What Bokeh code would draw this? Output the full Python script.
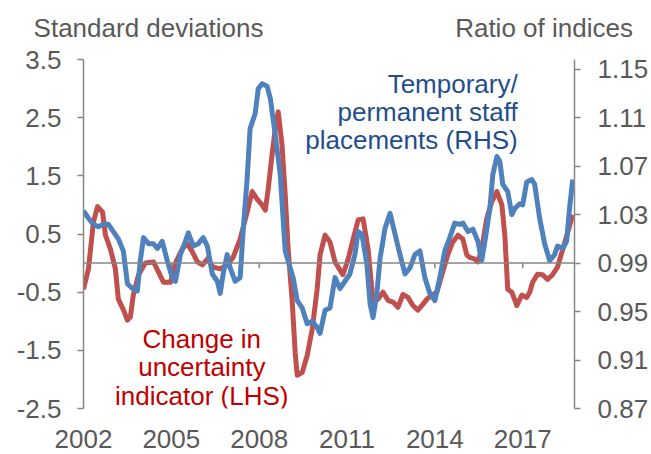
from bokeh.plotting import figure
from bokeh.models import Range1d, LinearAxis, FixedTicker, Span
from bokeh.core.properties import value
from bokeh.embed import file_html
from bokeh.resources import INLINE

# ---- data (decimal years) ----
unc_years = [2002.00, 2002.17, 2002.34, 2002.48, 2002.65, 2002.75, 2002.92, 2003.09, 2003.19, 2003.36,
             2003.50, 2003.60, 2003.70, 2003.88, 2004.11, 2004.39, 2004.56, 2004.73, 2004.97, 2005.14,
             2005.38, 2005.55, 2005.72, 2005.89, 2006.06, 2006.23, 2006.43, 2006.67, 2006.91, 2007.11,
             2007.35, 2007.59, 2007.76, 2007.93, 2008.10, 2008.21, 2008.31, 2008.44, 2008.55, 2008.65,
             2008.78, 2008.89, 2008.99, 2009.13, 2009.23, 2009.30, 2009.47, 2009.64, 2009.81, 2009.98,
             2010.08, 2010.25, 2010.42, 2010.59, 2010.86, 2011.04, 2011.21, 2011.38, 2011.55, 2011.72,
             2011.89, 2012.06, 2012.23, 2012.40, 2012.57, 2012.74, 2012.91, 2013.08, 2013.25, 2013.42,
             2013.59, 2013.73, 2013.90, 2014.07, 2014.27, 2014.44, 2014.61, 2014.79, 2014.96, 2015.09,
             2015.19, 2015.36, 2015.47, 2015.60, 2015.77, 2015.94, 2016.12, 2016.29, 2016.39, 2016.49,
             2016.63, 2016.80, 2016.97, 2017.14, 2017.24, 2017.34, 2017.51, 2017.68, 2017.85, 2018.02,
             2018.19, 2018.37, 2018.54, 2018.71]
unc_values = [-0.45, -0.10, 0.71, 0.97, 0.88, 0.48, 0.24, -0.10, -0.62, -0.80,
              -0.98, -0.93, -0.55, -0.20, 0.00, 0.02, -0.15, -0.33, -0.33, 0.00,
              0.25, 0.33, 0.19, 0.02, -0.03, 0.07, -0.07, -0.10, -0.03, 0.10,
              0.41, 0.88, 1.23, 1.10, 1.00, 0.91, 1.28, 1.86, 2.31, 2.60,
              2.04, 1.17, 0.24, -0.67, -1.54, -1.93, -1.88, -1.59, -1.14, -0.45,
              0.14, 0.48, 0.36, 0.02, -0.20, 0.07, 0.41, 0.74, 0.76, 0.24,
              -0.67, -0.62, -0.50, -0.64, -0.67, -0.76, -0.54, -0.59, -0.73, -0.81,
              -0.71, -0.62, -0.55, -0.50, -0.15, 0.14, 0.36, 0.48, 0.41, 0.14,
              0.10, 0.07, 0.02, 0.24, 0.76, 1.05, 1.23, 1.00, 0.48, -0.45,
              -0.50, -0.73, -0.55, -0.59, -0.50, -0.33, -0.19, -0.20, -0.28, -0.20,
              -0.07, 0.24, 0.53, 0.83]

temp_years = [2002.00, 2002.17, 2002.34, 2002.51, 2002.68, 2002.85, 2003.02, 2003.19, 2003.36, 2003.50,
              2003.67, 2003.84, 2003.94, 2004.05, 2004.22, 2004.39, 2004.52, 2004.69, 2004.86, 2005.03,
              2005.14, 2005.31, 2005.48, 2005.58, 2005.75, 2005.92, 2006.09, 2006.23, 2006.40, 2006.57,
              2006.67, 2006.77, 2006.91, 2007.01, 2007.18, 2007.35, 2007.46, 2007.59, 2007.69, 2007.86,
              2007.97, 2008.10, 2008.27, 2008.38, 2008.55, 2008.72, 2008.89, 2009.06, 2009.16, 2009.30,
              2009.47, 2009.64, 2009.81, 2009.98, 2010.08, 2010.25, 2010.42, 2010.59, 2010.76, 2010.93,
              2011.10, 2011.27, 2011.38, 2011.51, 2011.68, 2011.79, 2011.89, 2012.02, 2012.13, 2012.30,
              2012.47, 2012.64, 2012.81, 2012.98, 2013.15, 2013.32, 2013.49, 2013.66, 2013.83, 2014.00,
              2014.17, 2014.34, 2014.51, 2014.68, 2014.85, 2014.96, 2015.13, 2015.30, 2015.47, 2015.60,
              2015.71, 2015.88, 2015.98, 2016.12, 2016.22, 2016.32, 2016.49, 2016.63, 2016.73, 2016.90,
              2017.00, 2017.14, 2017.31, 2017.41, 2017.58, 2017.75, 2017.92, 2018.09, 2018.19, 2018.37,
              2018.50, 2018.60, 2018.71]
temp_values = [1.033, 1.027, 1.022, 1.020, 1.022, 1.022, 1.016, 1.010, 1.000, 0.973,
               0.969, 0.967, 0.992, 1.011, 1.006, 1.006, 1.002, 1.008, 0.992, 0.978,
               0.975, 0.997, 1.008, 1.015, 1.004, 1.006, 1.011, 1.004, 0.981, 0.975,
               0.965, 0.981, 0.997, 0.986, 0.975, 0.978, 1.019, 1.060, 1.101, 1.113,
               1.134, 1.138, 1.136, 1.126, 1.096, 1.063, 1.000, 0.986, 0.978, 0.959,
               0.953, 0.940, 0.942, 0.937, 0.932, 0.951, 0.953, 0.978, 0.969, 0.975,
               0.981, 0.997, 1.016, 1.014, 0.989, 0.956, 0.945, 0.965, 0.994, 1.019,
               1.031, 1.014, 0.997, 0.981, 0.986, 0.997, 1.000, 0.978, 0.965, 0.959,
               0.978, 1.000, 1.011, 1.023, 1.022, 1.023, 1.016, 1.018, 1.008, 0.992,
               1.008, 1.035, 1.063, 1.078, 1.074, 1.055, 1.049, 1.030, 1.035, 1.039,
               1.038, 1.057, 1.059, 1.055, 1.027, 1.006, 0.992, 0.997, 1.004, 1.002,
               1.008, 1.035, 1.059]

year_ticks = [2002, 2005, 2008, 2011, 2014, 2017]
left_ticks = [-2.5, -1.5, -0.5, 0.5, 1.5, 2.5, 3.5]
right_ticks = [0.87, 0.91, 0.95, 0.99, 1.03, 1.07, 1.11, 1.15]
left_title = "Standard deviations"
right_title = "Ratio of indices"

RED = "#C0504D"
BLUE = "#4F81BD"
RED_TXT = "#C00000"
BLUE_TXT = "#1F4E8C"
GREY_TXT = "#595959"
AXIS = "#868686"
FONT = "Liberation Sans"
FS = "26px"

p = figure(width=651, height=452, output_backend="svg", toolbar_location=None,
           x_range=Range1d(2002.0, 2018.77), y_range=Range1d(-2.5, 3.5),
           min_border_left=83, min_border_right=76, min_border_top=59, min_border_bottom=44)
p.extra_y_ranges = {"right": Range1d(0.87, 1.158)}
p.outline_line_color = None
p.grid.grid_line_color = None
p.background_fill_color = "white"
p.border_fill_color = "white"


def style_axis(ax, standoff):
    ax.axis_line_color = AXIS
    ax.axis_line_width = 1.5
    ax.major_tick_line_color = AXIS
    ax.major_tick_line_width = 1.5
    ax.major_tick_in = 0
    ax.major_tick_out = 6
    ax.minor_tick_line_color = None
    ax.major_label_standoff = standoff
    ax.major_label_text_font = FONT
    ax.major_label_text_font_size = FS
    ax.major_label_text_color = GREY_TXT


# left axis
la = p.yaxis[0]
la.ticker = FixedTicker(ticks=left_ticks)
la.major_label_overrides = {v: f"{v:.1f}" for v in left_ticks}
style_axis(la, 16)

# right axis
ra = LinearAxis(y_range_name="right", ticker=FixedTicker(ticks=right_ticks))
ra.major_label_overrides = {v: f"{v:.2f}" for v in right_ticks}
style_axis(ra, 17)
p.add_layout(ra, "right")

# bottom axis: labels only
xa = p.xaxis[0]
xa.ticker = FixedTicker(ticks=year_ticks)
xa.major_label_overrides = {v: str(v) for v in year_ticks}
style_axis(xa, 21)
xa.axis_line_color = None
xa.major_tick_line_color = None
xa.major_tick_out = 0

# top "axis" used only to carry the two axis titles above the frame
title_pos = [2004.22, 2017.73]
ta = LinearAxis(ticker=FixedTicker(ticks=title_pos),
                major_label_overrides={title_pos[0]: left_title, title_pos[1]: right_title})
style_axis(ta, 17)
ta.axis_line_color = None
ta.major_tick_line_color = None
ta.major_tick_out = 0
p.add_layout(ta, "above")

# zero line with small ticks
p.add_layout(Span(location=0, dimension="width", line_color=AXIS, line_width=1.5))
p.segment(x0=year_ticks, y0=[0] * len(year_ticks), x1=year_ticks, y1=[-0.09] * len(year_ticks),
          line_color=AXIS, line_width=1.5)

# series
p.line(unc_years, unc_values, line_color=RED, line_width=5, line_join="round")
p.line(temp_years, temp_values, line_color=BLUE, line_width=5, line_join="round", y_range_name="right")

# annotations
p.text(x=[2016.83] * 3, y=[3.08, 2.59, 2.11],
       text=["Temporary/", "permanent staff", "placements (RHS)"],
       text_align="right", text_baseline="alphabetic", text_font=value(FONT),
       text_font_size=FS, text_color=BLUE_TXT)
p.text(x=[2006.04] * 3, y=[-1.30, -1.79, -2.28],
       text=["Change in", "uncertainty", "indicator (LHS)"],
       text_align="center", text_baseline="alphabetic", text_font=value(FONT),
       text_font_size=FS, text_color=RED_TXT)

open("out.html", "w").write(file_html(p, INLINE))
